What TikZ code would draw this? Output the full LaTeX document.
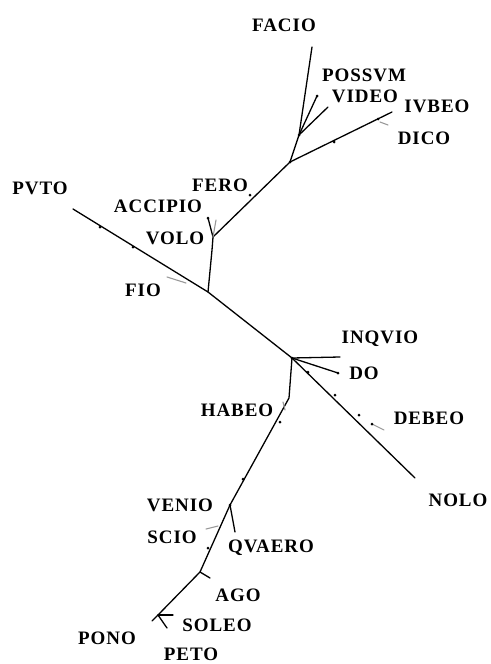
\documentclass[tikz,border=0pt]{standalone}
\usepackage{fontspec}
\setmainfont{Liberation Serif}
\newfontfamily\labfont[LetterSpace=5]{Liberation Serif}
\begin{document}
\begin{tikzpicture}[x=1pt,y=-1pt,
  branch/.style={draw=black,line width=1.3pt,line join=round,line cap=round},
  tick/.style={draw=black!40,line width=1.1pt,line cap=round},
  lbl/.style={inner sep=0pt,font=\labfont\bfseries\fontsize{19}{19}\selectfont},
  knot/.style={fill=black,circle,inner sep=0pt,minimum size=3pt}]
\useasboundingbox (0,0) rectangle (490,664);
% junctions and ends
\coordinate (facioE) at (312,47);
\coordinate (jUp) at (299,135);
\coordinate (possE) at (317,96);
\coordinate (videoE) at (328,107);
\coordinate (jTop) at (290,162);
\coordinate (iubeoE) at (392,112);
\coordinate (feroE) at (213,237);
\coordinate (accE) at (208,218);
\coordinate (voloT) at (212,250);
\coordinate (jFio) at (208,292);
\coordinate (putoE) at (73,209);
\coordinate (jMid) at (292,358);
\coordinate (inqE) at (340,357);
\coordinate (doE) at (338,373);
\coordinate (noloE) at (415,478);
\coordinate (habB) at (289,398);
\coordinate (jVen) at (230,505);
\coordinate (quaeE) at (235,532);
\coordinate (jAgo) at (200,572);
\coordinate (jSol) at (158,615);
\coordinate (ponoE) at (152,621);
% branches
\draw[branch] (putoE) -- (jFio) -- (jMid) -- (noloE);
\draw[branch] (jFio) -- (voloT) -- (feroE) -- (jTop) -- (jUp) -- (facioE);
\draw[branch] (feroE) -- (accE);
\draw[branch] (jUp) -- (possE);
\draw[branch] (jUp) -- (videoE);
\draw[branch] (jTop) -- (iubeoE);
\draw[branch] (jMid) -- (inqE);
\draw[branch] (jMid) -- (doE);
\draw[branch] (jMid) -- (habB) -- (jVen) -- (jAgo) -- (jSol) -- (ponoE);
\draw[branch] (jVen) -- (quaeE);
\draw[branch] (jAgo) -- ++(10,6);
\draw[branch] (jSol) -- ++(15,0);
\draw[branch] (jSol) -- ++(9,13);
% grey ticks
\draw[tick] (feroE) -- ++(3,-17);
\draw[tick] (380,122) -- (388,125);
\draw[tick] (167,277) -- (186,283);
\draw[tick] (372,424) -- (384,430);
\draw[tick] (283,402) -- (285,410);
\draw[tick] (206,529) -- (218,526);
% small knots on the branches
\foreach \p in {(accE),(possE),(doE),(jUp),(jTop),(jMid),(jVen),
  (100,227),(133,247),(334,142),(378,119),(308,372),(335,395),(359,415),
  (372,424),(280,422),(243,479),(208,548),(250,195)}
  \node[knot] at \p {};
% labels
\node[lbl] (facio) at (284,25) {FACIO};
\node[lbl] (possum) at (364,75) {POSSVM};
\node[lbl] (video) at (365,96) {VIDEO};
\node[lbl] (iubeo) at (437,106) {IVBEO};
\node[lbl] (dico) at (424,138) {DICO};
\node[lbl] (fero) at (220,185) {FERO};
\node[lbl] (accipio) at (158,206) {ACCIPIO};
\node[lbl] (volo) at (175,238) {VOLO};
\node[lbl] (puto) at (40,188) {PVTO};
\node[lbl] (fio) at (143,290) {FIO};
\node[lbl] (inquio) at (380,339) {INQVIO};
\node[lbl] (do) at (364,373) {DO};
\node[lbl] (debeo) at (429,418) {DEBEO};
\node[lbl] (habeo) at (237,410) {HABEO};
\node[lbl] (nolo) at (458,500) {NOLO};
\node[lbl] (venio) at (180,505) {VENIO};
\node[lbl] (scio) at (172,537) {SCIO};
\node[lbl] (quaero) at (271,548) {QVAERO};
\node[lbl] (ago) at (238,595) {AGO};
\node[lbl] (soleo) at (217,625) {SOLEO};
\node[lbl] (pono) at (107,638) {PONO};
\node[lbl] (peto) at (191,654) {PETO};
\end{tikzpicture}
\end{document}
